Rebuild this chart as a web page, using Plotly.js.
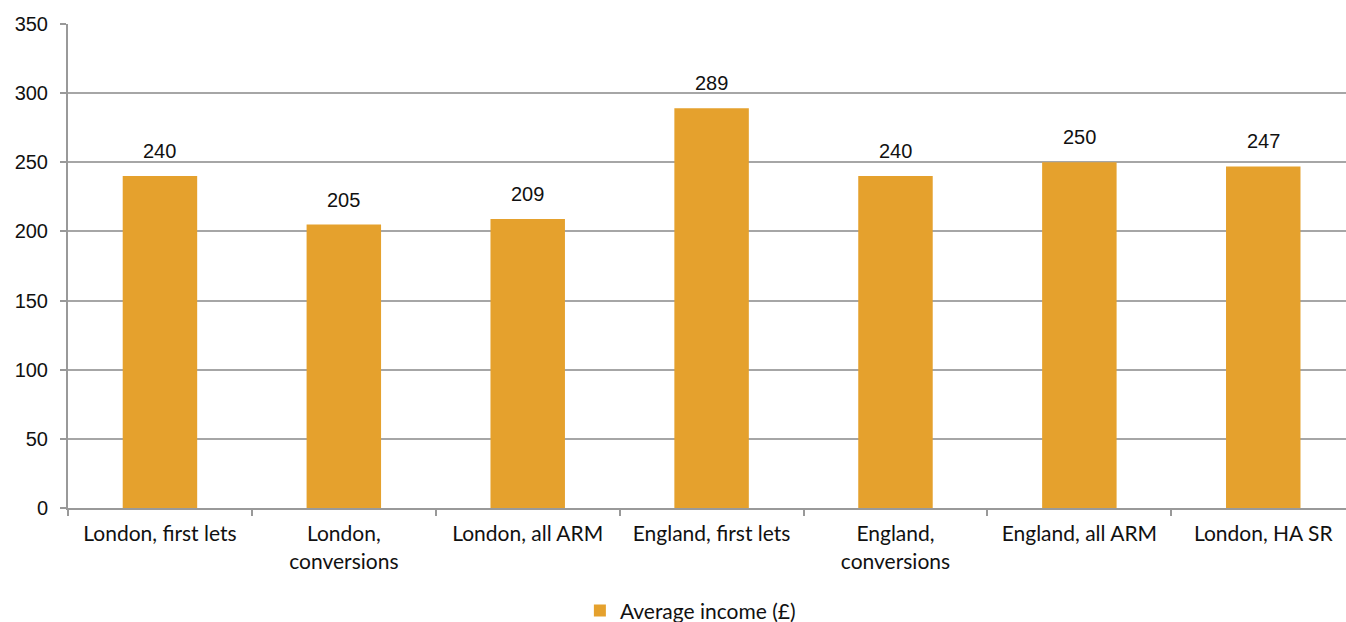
<!DOCTYPE html>
<html>
<head>
<meta charset="utf-8">
<script src="https://cdn.plot.ly/plotly-3.0.1.min.js"></script>
<style>html,body{margin:0;padding:0;background:#fff;overflow:hidden;}#chart{width:1346px;height:622px;}</style>
</head>
<body>
<div id="chart"></div>
<script>
const categories = ["London, first lets", "London,<br>conversions", "London, all ARM", "England, first lets", "England,<br>conversions", "England, all ARM", "London, HA SR"];
const values = [240, 205, 209, 289, 240, 250, 247];
const seriesName = "Average income (£)";
const yTicks = [0, 50, 100, 150, 200, 250, 300, 350];

const trace = {
  type: 'bar',
  x: categories,
  y: values,
  name: seriesName,
  marker: {color: '#E5A12D'},
  hoverinfo: 'x+y'
};

const labels = categories.map((c, i) => ({
  x: c, y: values[i], xref: 'x', yref: 'y',
  text: String(values[i]), showarrow: false,
  yanchor: 'bottom', yshift: 12,
  font: {family: 'Liberation Sans, Arial, sans-serif', size: 20, color: '#111'}
}));

const layout = {
  width: 1346, height: 622,
  margin: {l: 68, r: 0, t: 24, b: 114},
  paper_bgcolor: '#fff', plot_bgcolor: '#fff',
  bargap: 0.595,
  showlegend: true,
  legend: {orientation: 'h', x: 0.487, xanchor: 'center', yref: 'container', y: 0.018, yanchor: 'middle',
    font: {family: 'Lato, sans-serif', size: 21, color: '#111'}, itemwidth: 30},
  annotations: labels,
  xaxis: {
    type: 'category',
    range: [-0.5, 6.45],
    showline: true, linecolor: '#999', linewidth: 2,
    ticks: 'outside', tickson: 'boundaries', ticklen: 6, tickcolor: '#999', tickwidth: 2,
    tickfont: {family: 'Lato, sans-serif', size: 21, color: '#111'},
    ticklabelstandoff: 6,
    showgrid: false
  },
  yaxis: {
    range: [0, 350], tickvals: yTicks, ticktext: yTicks.map(String),
    showline: true, linecolor: '#999', linewidth: 2,
    ticks: 'outside', ticklen: 6, tickcolor: '#999', tickwidth: 2,
    gridcolor: '#A6A6A6', gridwidth: 2, zeroline: false,
    tickfont: {family: 'Liberation Sans, Arial, sans-serif', size: 20, color: '#111'},
    ticklabelstandoff: 8
  }
};

Plotly.newPlot('chart', [trace], layout, {displayModeBar: false});
</script>
</body>
</html>
